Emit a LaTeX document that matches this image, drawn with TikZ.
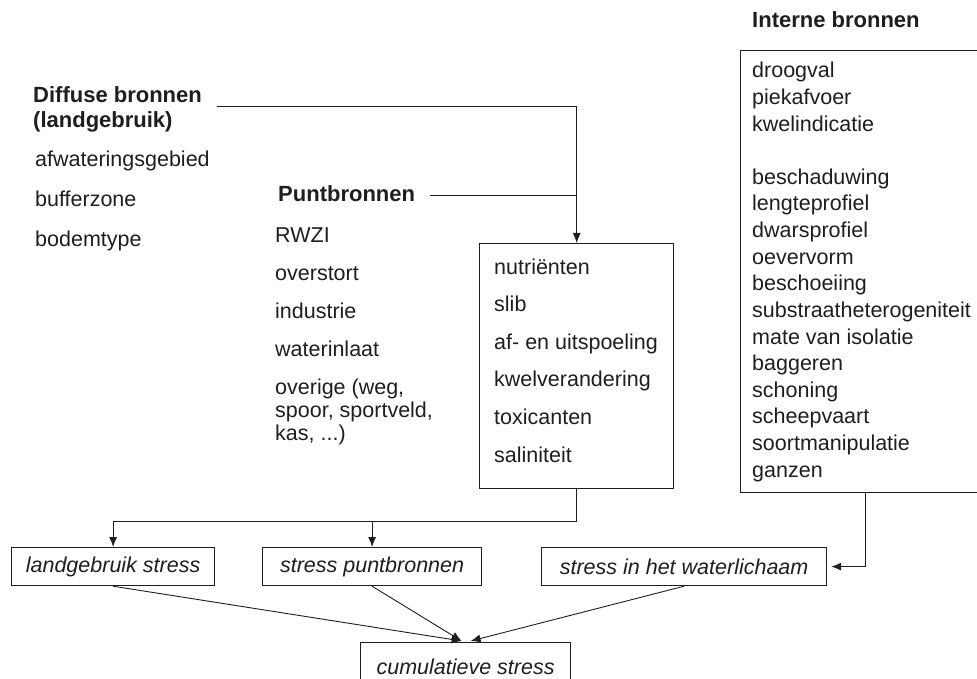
\documentclass[tikz,border=0pt]{standalone}
\usepackage{fontspec}
\setmainfont{Liberation Sans}
\usetikzlibrary{arrows.meta}
\definecolor{ink}{HTML}{1E1E1E}
\begin{document}
\begin{tikzpicture}[x=1pt,y=-1pt,
  every node/.style={inner sep=0pt, text=ink},
  lbl/.style={anchor=base west, font=\fontsize{21.5}{24}\selectfont},
  head/.style={anchor=base west, font=\fontsize{22}{24}\selectfont\bfseries},
  frame/.style={draw=ink, line width=1.4pt, rectangle, anchor=north west},
  stressbox/.style={draw=ink, line width=1.2pt, rectangle, anchor=north west,
    minimum height=38pt, font=\fontsize{21.5}{24}\selectfont\itshape},
  conn/.style={draw=ink, line width=0.9pt},
  arr/.style={conn, -{Latex[length=10pt,width=8pt]}}
]
\useasboundingbox (0,0) rectangle (977,679);

% diffuse sources
\node[head] (difA) at (33,103) {Diffuse bronnen};
\node[head] (difB) at (33,128) {(landgebruik)};
\node[lbl] (dif1) at (35,167) {afwateringsgebied};
\node[lbl] (dif2) at (35,207) {bufferzone};
\node[lbl] (dif3) at (35,246) {bodemtype};

% point sources
\node[head] (pnt) at (278,202) {Puntbronnen};
\node[lbl] (pnt1) at (275,242) {RWZI};
\node[lbl] (pnt2) at (275,280) {overstort};
\node[lbl] (pnt3) at (275,318) {industrie};
\node[lbl] (pnt4) at (275,356) {waterinlaat};
\node[lbl] (pnt5) at (275,394) {overige (weg,};
\node[lbl] (pnt6) at (275,417) {spoor, sportveld,};
\node[lbl] (pnt7) at (275,440) {kas, ...)};

% pressures box
\node[frame, minimum width=194pt, minimum height=245pt] (mid) at (479,243) {};
\foreach \t [count=\i] in {nutriënten, slib, af- en uitspoeling, kwelverandering, toxicanten, saliniteit}
  \node[lbl] (mid\i) at (494,{274+37.6*(\i-1)}) {\t};

% internal sources
\node[head] (intTitle) at (752,28) {Interne bronnen};
\node[frame, minimum width=240pt, minimum height=442pt] (intern) at (740,50) {};
\foreach \t/\k [count=\i] in {droogval/0, piekafvoer/1, kwelindicatie/2,
    beschaduwing/4, lengteprofiel/5, dwarsprofiel/6, oevervorm/7, beschoeiing/8,
    substraatheterogeniteit/9, mate van isolatie/10, baggeren/11, schoning/12,
    scheepvaart/13, soortmanipulatie/14, ganzen/15}
  \node[lbl] (int\i) at (752,{78+26.6*\k}) {\t};

% stress boxes
\node[stressbox, minimum width=203pt] (lg) at (11,547) {landgebruik stress};
\node[stressbox, minimum width=219pt] (sp) at (262,547) {stress puntbronnen};
\node[stressbox, minimum width=285pt] (wl) at (541,547) {stress in het waterlichaam};
\node[stressbox, minimum width=210pt, minimum height=48pt] (cum) at (360,642) {cumulatieve stress};

% connectors into the pressures box
\coordinate (dStart) at (217,106);
\coordinate (pStart) at (430,195);
\draw[arr] (dStart) -| (mid.north);
\draw[conn] (pStart) -- (pStart -| mid.north);

% pressures to the stress boxes
\path (mid.south) ++(0,32) coordinate (split);
\draw[arr] (mid.south) -- (split) -| (lg.north);
\draw[arr] (split -| sp.north) -- (sp.north);

% internal sources to the water body stress
\path (intern.south west) ++(125,0) coordinate (iDrop);
\draw[arr, shorten >=4pt] (iDrop) |- (wl.east);

% everything adds up
\path (cum.north) ++(-4,-1) coordinate (cL);
\path (cum.north) ++(5,-1) coordinate (cR);
\draw[arr] (lg.south) -- (cL);
\draw[arr] (sp.south) -- (cL);
\draw[arr] (wl.south) -- (cR);
\end{tikzpicture}
\end{document}
